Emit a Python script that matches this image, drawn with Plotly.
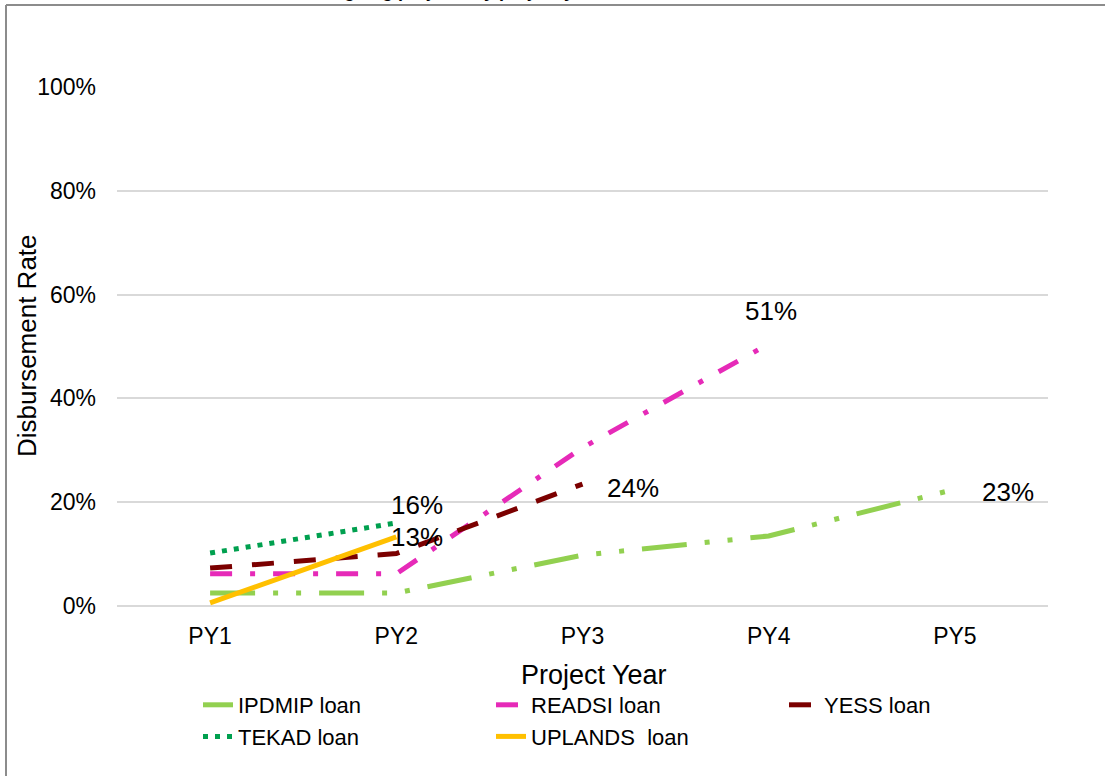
import plotly.graph_objects as go

years = ["PY1", "PY2", "PY3", "PY4", "PY5"]

ipdmip = [0.025, 0.025, 0.098, 0.135, 0.225]
readsi = [0.062, 0.062, 0.305, 0.505]
yess = [0.073, 0.101, 0.235]
tekad = [0.102, 0.160]
uplands = [0.006, 0.133]

# data labels shown only at the last point of each series
end_labels = {"IPDMIP loan": "23%", "READSI loan": "51%", "YESS loan": "24%",
              "TEKAD loan": "16%", "UPLANDS  loan": "13%"}

FONT = "Liberation Sans, Arial, sans-serif"
W, H = 1105, 776
L, R, T, B = 117, 57, 87, 170


def px_x(p):
    return (p - L) / (W - L - R)


def px_y(p):
    return (H - B - p) / (H - T - B)


# name, values, colour, dash, label (xanchor, xshift, yshift)
series = [
    ("IPDMIP loan", ipdmip, "#92D050", "45px,18px,5px,18px,5px,18px", ("left", 25, -3)),
    ("READSI loan", readsi, "#E62AB8", "22px,18px,5px,18px", ("center", 2, 33)),
    ("YESS loan", yess, "#7B0000", "22px,20px", ("left", 22, -4)),
    ("TEKAD loan", tekad, "#00A04F", "5px,7px", ("left", -7, 18)),
    ("UPLANDS  loan", uplands, "#FFC000", "solid", ("left", -7, 0)),
]

fig = go.Figure()
annotations = []
for name, vals, color, dash, (xa, xs, ys) in series:
    fig.add_trace(go.Scatter(
        x=years[:len(vals)], y=vals, name=name, mode="lines",
        line=dict(color=color, width=5, dash=dash),
    ))
    annotations.append(dict(
        x=years[len(vals) - 1], y=vals[-1], text=end_labels[name],
        xanchor=xa, yanchor="middle", xshift=xs, yshift=ys, showarrow=False,
        font=dict(size=26, color="#000000", family=FONT),
    ))

# axis titles placed as annotations so they sit where the source has them
annotations.append(dict(
    text="Project Year", xref="paper", yref="paper", x=px_x(594), y=px_y(675),
    xanchor="center", yanchor="middle", showarrow=False,
    font=dict(size=27, color="#000000", family=FONT),
))
annotations.append(dict(
    text="Disbursement Rate", xref="paper", yref="paper", x=px_x(27), y=px_y(346),
    xanchor="center", yanchor="middle", textangle=-90, showarrow=False,
    font=dict(size=26, color="#000000", family=FONT),
))

# chart title, mostly cut off by the top edge as in the source screenshot
annotations.append(dict(
    text="<b>Disbursement rate of ongoing projects by project year</b>",
    xref="paper", yref="paper", x=px_x(603), y=px_y(3), xanchor="right", yanchor="bottom",
    showarrow=False, font=dict(size=18, color="#000000", family=FONT),
))

border = dict(color="#8C8C8C", width=2)

fig.update_layout(
    width=W, height=H,
    margin=dict(l=L, r=R, t=T, b=B, autoexpand=False),
    paper_bgcolor="white", plot_bgcolor="white",
    font=dict(family=FONT, size=22, color="#000000"),
    showlegend=True,
    legend=dict(
        orientation="h", x=px_x(198), xanchor="left", y=px_y(684), yanchor="top",
        entrywidth=248, entrywidthmode="pixels", bgcolor="rgba(0,0,0,0)",
        font=dict(size=22), traceorder="normal",
    ),
    xaxis=dict(
        range=[-0.5, 4.5], showgrid=False, zeroline=False, showline=False,
        ticks="", ticklabelstandoff=14, tickfont=dict(size=23), automargin=False,
    ),
    yaxis=dict(
        range=[0, 1], tickvals=[0, 0.2, 0.4, 0.6, 0.8, 1.0], tickformat=".0%",
        showgrid=True, gridcolor="#D9D9D9", gridwidth=1.5,
        zeroline=True, zerolinecolor="#D9D9D9", zerolinewidth=1.5,
        showline=False, ticks="", ticklabelstandoff=20, tickfont=dict(size=23),
        automargin=False,
    ),
    shapes=[
        dict(type="line", xref="paper", yref="paper",
             x0=px_x(6), x1=px_x(1110), y0=px_y(5), y1=px_y(5), line=border, layer="below"),
        dict(type="line", xref="paper", yref="paper",
             x0=px_x(6), x1=px_x(6), y0=px_y(5), y1=px_y(800), line=border, layer="below"),
    ],
    annotations=annotations,
)

fig.write_html("out.html", config={"displayModeBar": False},
               post_script="document.body.style.margin='0px';")
